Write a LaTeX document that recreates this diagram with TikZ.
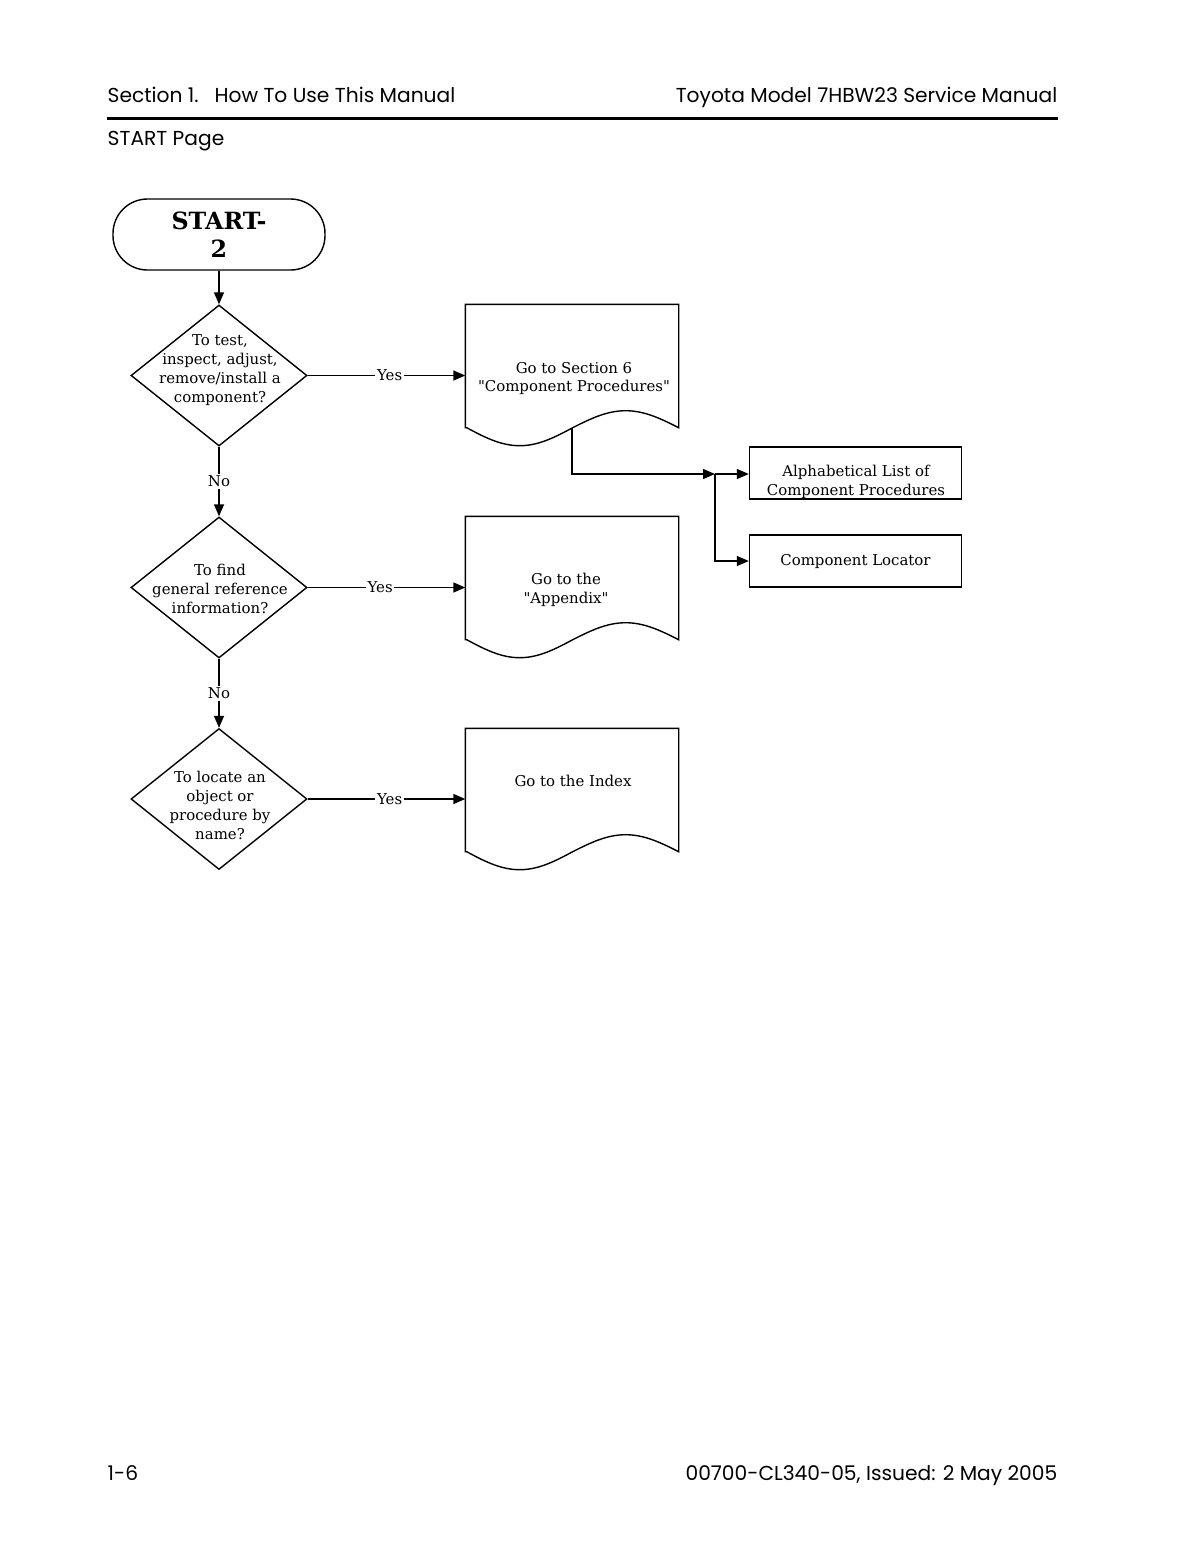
\documentclass[tikz,border=0pt]{standalone}
\usepackage{fontspec}
\setmainfont{DejaVu Serif}[Ligatures=TeXOff]
\newfontfamily\headfont{Poppins}
\usetikzlibrary{shapes.geometric,arrows.meta}

\tikzset{
  head/.style={font=\headfont\fontsize{11.5}{13}\selectfont, inner sep=0pt},
  term/.style={draw, rounded corners=6.9mm, minimum width=42.4mm, minimum height=14.2mm,
    align=center, font=\bfseries\fontsize{13.5}{16}\selectfont},
  decision/.style={diamond, draw, minimum width=35.2mm, minimum height=28.2mm},
  page/.style={minimum width=42.4mm, minimum height=24.4mm, inner sep=0pt},
  box/.style={draw, minimum width=42.4mm, minimum height=10.4mm, align=center},
  lab/.style={fill=white, inner sep=1pt},
  arr/.style={-{Triangle[length=2.4mm,width=2mm]}}
}

\begin{document}
\begin{tikzpicture}[x=0.2mm,y=-0.2mm,line width=0.8pt,
    every node/.style={font=\fontsize{8.5}{10.8}\selectfont}]
  \fill[white] (0,0) rectangle (1200,1553);

  % page header and footer
  \node[head, anchor=base west] (sec) at (107,102) {Section 1.\hspace{3.2mm}How To Use This Manual};
  \node[head, anchor=base east] (model) at (1058,102) {Toyota Model 7HBW23 Service Manual};
  \draw[line width=0.6mm] (107,118) -- (1058,118);
  \node[head, anchor=base west] (pagetitle) at (107,145) {START Page};
  \node[head, anchor=base west] (pagenum) at (107,1480) {1-6};
  \node[head, anchor=base east] (issue) at (1058,1480) {00700-CL340-05, Issued: 2 May 2005};

  % questions
  \node[term] (start) at (219,234.5) {START-\\2};
  \node[decision] (dec1) at (219,375.5) {};
  \node[decision] (dec2) at (219,587.5) {};
  \node[decision] (dec3) at (219,799) {};
  \node[align=center] (q1) at (220,370.5) {To test,\\inspect, adjust,\\remove/install a\\component?};
  \node[align=center] (q2) at (220,588.5) {To find\\general reference\\information?};
  \node[align=center] (q3) at (220,805.5) {To locate an\\object or\\procedure by\\name?};

  % documents
  \node[page] (doc1) at (572,366) {};
  \node[page] (doc2) at (572,578) {};
  \node[page] (doc3) at (572,790) {};
  \foreach \d in {doc1,doc2,doc3}
    \draw (\d.south west) -- (\d.north west) -- (\d.north east) -- (\d.south east)
      sin ++(-53,-17) cos ++(-53,17) sin ++(-53,18) cos ++(-53,-18) -- cycle;
  \node[align=center] (sect6) at (574,378.5) {Go to Section 6\\"Component Procedures"};
  \node[align=center] (appx) at (566,590) {Go to the\\"Appendix"};
  \node (index) at (573,781) {Go to the Index};

  \node[box] (alpha) at (855.5,473) {};
  \node[align=center] (alphatxt) at (856,482) {Alphabetical List of\\Component Procedures};
  \node[box] (locator) at (855.5,561) {\raisebox{-0.4mm}{Component Locator}};

  % connectors
  \draw[arr] (start) -- (dec1);
  \draw[arr] (dec1) -- node[lab]{No} (dec2);
  \draw[arr] (dec2) -- node[lab]{No} (dec3);
  \draw[arr] (dec1) -- node[lab, pos=0.52]{Yes} (dec1 -| doc1.west);
  \draw[arr] (dec2) -- node[lab, pos=0.46]{Yes} (dec2 -| doc2.west);
  \draw[arr] (dec3) -- node[lab, pos=0.52]{Yes} (dec3 -| doc3.west);

  \coordinate (split) at (715,474);
  \draw[arr] (doc1.south) |- (split);
  \draw[arr] (split) -- (split -| alpha.west);
  \draw[arr] (split) |- (locator);
\end{tikzpicture}
\end{document}
